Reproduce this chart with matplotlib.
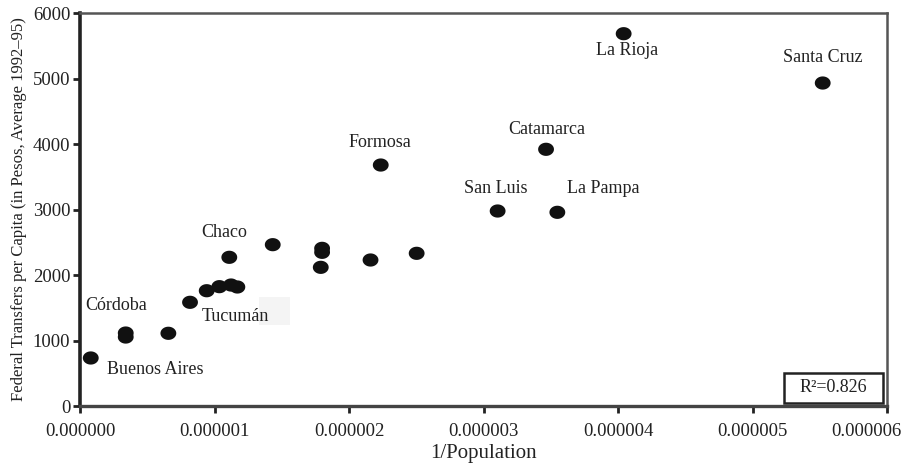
import matplotlib
matplotlib.use("Agg")
import matplotlib.pyplot as plt
import matplotlib.transforms as mtransforms
import numpy as np
from matplotlib.path import Path
from matplotlib.patches import Rectangle

plt.rcParams['font.family'] = ['Liberation Serif', 'DejaVu Serif']

# data (x in units of 1/population)
inv_pop = [0.08e-6, 0.34e-6, 0.34e-6, 0.657e-6, 0.818e-6, 0.942e-6, 1.036e-6,
           1.123e-6, 1.17e-6, 1.11e-6, 1.433e-6, 1.80e-6, 1.80e-6, 1.79e-6,
           2.16e-6, 2.503e-6, 2.236e-6, 3.105e-6, 3.549e-6, 3.465e-6,
           4.042e-6, 5.522e-6]
transfers = [733, 1114, 1053, 1110, 1583, 1760, 1822, 1847, 1817, 2270,
             2463, 2407, 2346, 2117, 2229, 2331, 3679, 2977, 2957, 3919,
             5684, 4931]

label_names = ["Buenos Aires", "Córdoba", "Tucumán", "Chaco", "Formosa",
               "San Luis", "La Pampa", "Catamarca", "La Rioja", "Santa Cruz"]
label_x = [0.2e-6, 0.04e-6, 0.907e-6, 1.07e-6, 2.23e-6, 3.09e-6, 3.62e-6,
           3.47e-6, 4.07e-6, 5.52e-6]
label_y = [550, 1527, 1374, 2656, 4030, 3328, 3328, 4229, 5435, 5328]
label_ha = ["left", "left", "left", "center", "center", "center", "left",
            "center", "center", "center"]

r2_text = "R²=0.826"

xticks = [0, 1e-6, 2e-6, 3e-6, 4e-6, 5e-6, 6e-6]
xticklabels = ["0.000000", "0.000001", "0.000002", "0.000003", "0.000004",
               "0.000005", "0.000006"]
yticks = [0, 1000, 2000, 3000, 4000, 5000, 6000]

fig = plt.figure(figsize=(9.11, 4.73), dpi=100)
ax = fig.add_axes([80/911, 67/473, 807/911, 393/473])

# elliptical marker
t = np.linspace(0, 2*np.pi, 60)
ell = Path(np.column_stack([1.2*np.cos(t), np.sin(t)]), closed=True)

ax.scatter(inv_pop, transfers, marker=ell, s=130, color='#111111',
           edgecolors='none', zorder=3)

for name, lx, ly, ha in zip(label_names, label_x, label_y, label_ha):
    ax.text(lx, ly, name, ha=ha, va='center', fontsize=13, color='#222222')

# faint artifact patch
ax.add_patch(Rectangle((1.33e-6, 1240), 0.23e-6, 420, facecolor='#f4f4f4',
                       edgecolor='none', zorder=1))

ax.set_xlim(0, 6e-6)
ax.set_ylim(0, 6000)
ax.set_xticks(xticks)
ax.set_xticklabels(xticklabels)
ax.set_yticks(yticks)
ax.tick_params(axis='both', labelsize=13.5, colors='#222222', width=2,
               length=5, direction='out')
ax.tick_params(axis='x', pad=7)
ax.tick_params(axis='y', pad=2)

# shift the last x tick label left so it fits in the figure
last = ax.get_xticklabels()[-1]
last.set_transform(last.get_transform() +
                   mtransforms.ScaledTranslation(-0.21, 0, fig.dpi_scale_trans))

ax.spines['left'].set_linewidth(2.6)
ax.spines['left'].set_color('#222222')
ax.spines['bottom'].set_linewidth(2.4)
ax.spines['bottom'].set_color('#444444')
for s in ['top', 'right']:
    ax.spines[s].set_linewidth(1.8)
    ax.spines[s].set_color('#555555')

ax.set_xlabel("1/Population", fontsize=15, color='#222222', labelpad=3)
ax.set_ylabel("Federal Transfers per Capita (in Pesos, Average 1992–95)",
              fontsize=12, color='#222222', labelpad=4)

# R² box
ax.add_patch(Rectangle((0.8724, 0.0076), 0.1226, 0.0764,
                       transform=ax.transAxes, facecolor='white',
                       edgecolor='#222222', linewidth=1.8, zorder=4))
ax.text(0.934, 0.046, r2_text, transform=ax.transAxes, ha='center',
        va='center', fontsize=13, color='#222222', zorder=5)

fig.savefig("out.png", dpi=100)
